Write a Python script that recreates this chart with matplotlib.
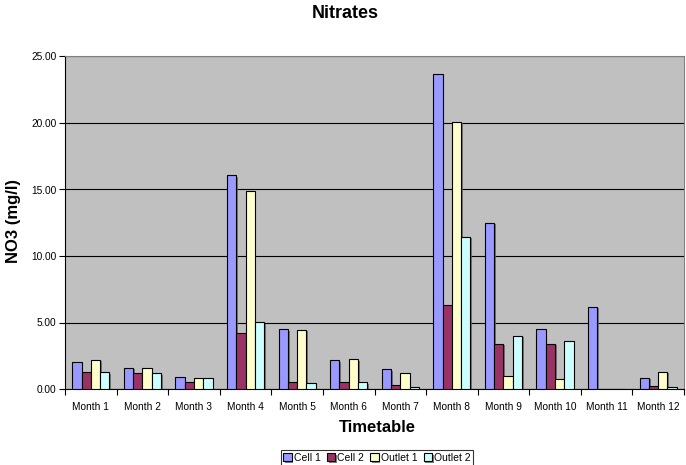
import matplotlib
matplotlib.use("Agg")
import matplotlib.pyplot as plt
import numpy as np
from matplotlib import patheffects as pe

plt.rcParams['font.family'] = ['Liberation Sans', 'DejaVu Sans']

months = ["Month 1", "Month 2", "Month 3", "Month 4", "Month 5", "Month 6",
          "Month 7", "Month 8", "Month 9", "Month 10", "Month 11", "Month 12"]
cell1 = [2.0, 1.6, 0.9, 16.1, 4.5, 2.15, 1.5, 23.7, 12.5, 4.5, 6.2, 0.85]
cell2 = [1.25, 1.2, 0.5, 4.2, 0.5, 0.5, 0.3, 6.3, 3.4, 3.4, 0.03, 0.2]
outlet1 = [2.2, 1.6, 0.8, 14.85, 4.45, 2.25, 1.2, 20.1, 1.0, 0.75, 0.0, 1.3]
outlet2 = [1.25, 1.2, 0.8, 5.05, 0.45, 0.5, 0.15, 11.45, 4.0, 3.6, 0.02, 0.15]
series_names = ["Cell 1", "Cell 2", "Outlet 1", "Outlet 2"]
series = [cell1, cell2, outlet1, outlet2]
colors = ["#9999FF", "#993366", "#FFFFCC", "#CCFFFF"]
yticks = [0, 5, 10, 15, 20, 25]

fig = plt.figure(figsize=(6.86, 4.65), dpi=100)
ax = fig.add_axes([65/686, 1-389/465, (684-65)/686, (389-56.5)/465])
ax.set_facecolor("#C0C0C0")

x = np.arange(len(months))
w = 0.18
for i, (name, vals, c) in enumerate(zip(series_names, series, colors)):
    bars = ax.bar(x + (i - 1.5) * w, vals, width=w, color=c, edgecolor="black",
                  linewidth=0.8, label=name, zorder=3)
    for b in bars:
        b.set_path_effects([pe.SimplePatchShadow(offset=(1.2, -1.2), shadow_rgbFace="#606060", alpha=0.8), pe.Normal()])

ax.set_xlim(-0.5, len(months) - 0.5)
ax.set_ylim(0, 25)
ax.set_yticks(yticks)
ax.set_yticklabels([f"{v:.2f}" for v in yticks], fontsize=7.3)
ax.yaxis.grid(True, color="black", linewidth=0.8, zorder=1)
ax.set_axisbelow(True)

ax.set_xticks(np.arange(-0.5, len(months), 1.0))
ax.set_xticklabels([])
ax.set_xticks(x, minor=True)
ax.set_xticklabels(months, minor=True, fontsize=7.3)
ax.tick_params(axis="x", which="minor", length=0, pad=9)
ax.tick_params(axis="x", which="major", length=4, width=0.8, direction="out")
ax.tick_params(axis="y", length=4, width=0.8, direction="out", pad=2)

for s in ["top", "right"]:
    ax.spines[s].set_color("#808080")
    ax.spines[s].set_linewidth(0.8)
ax.spines["left"].set_linewidth(0.8)
ax.spines["bottom"].set_linewidth(0.8)

fig.text(345/686, 1-14/465, "Nitrates", ha="center", va="center", fontsize=13, fontweight="bold")
fig.text(13.5/686, 1-221/465, "NO3 (mg/l)", ha="center", va="center", rotation=90, fontsize=12, fontweight="bold")
fig.text(377/686, 1-427/465, "Timetable", ha="center", va="center", fontsize=12, fontweight="bold")

leg = fig.legend(loc="center", bbox_to_anchor=(377/686, 1-458/465), ncol=4, fontsize=7.5,
                 frameon=True, fancybox=False, edgecolor="black", handlelength=0.8,
                 handleheight=0.8, handletextpad=0.2, columnspacing=0.6, borderpad=0.25,
                 borderaxespad=0)
leg.get_frame().set_linewidth(0.8)

fig.savefig("out.png", dpi=100)
